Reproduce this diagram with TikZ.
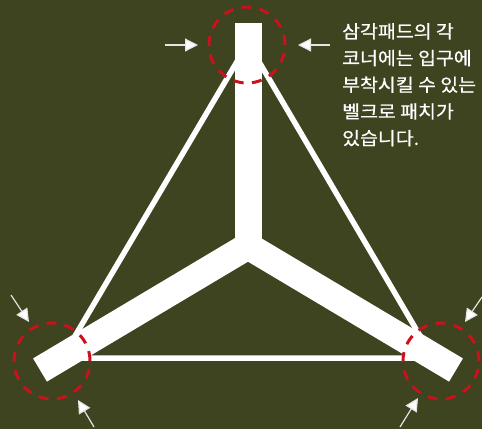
\documentclass[tikz,border=0pt]{standalone}
\usepackage{fontspec}
\newfontfamily\krfont[FakeStretch=1.08, FakeBold=0.6]{Noto Sans CJK KR}
\usetikzlibrary{arrows.meta}
\definecolor{padbg}{RGB}{62,67,32}
\definecolor{velcro}{RGB}{200,18,30}

\begin{document}
\begin{tikzpicture}[x=1pt, y=-1pt,
    arm/.style={draw=white, line width=27pt, line cap=butt},
    rib/.style={draw=white, line width=5.5pt},
    ring/.style={circle, draw=velcro, line width=3pt, dash pattern=on 10pt off 8.4pt,
        minimum size=76pt, inner sep=0pt},
    pointer/.style={draw=white!80!gray, line width=1.2pt,
        -{Triangle[length=13pt, width=13pt, fill=white]}},
    note/.style={text=white, font=\krfont\fontsize{18}{26.7}\selectfont,
        align=left, inner sep=0pt, anchor=north west}
]
    \fill[padbg] (0,0) rectangle (482,429);
    \useasboundingbox (0,0) rectangle (482,429);

    % thin triangle
    \coordinate (apex) at (248,43);
    \coordinate (baseL) at (62,358);
    \coordinate (baseR) at (433,358);
    \draw[rib] (apex) -- (baseL) -- (baseR) -- cycle;

    % Y-shaped pad
    \coordinate (hub) at (248,246);
    \coordinate (tipT) at (248,23);
    \coordinate (tipL) at (40,370);
    \coordinate (tipR) at (456,370);
    \draw[arm] (hub) -- (tipT);
    \draw[arm] (hub) -- (tipL);
    \draw[arm] (hub) -- (tipR);

    % velcro corners
    \node[ring] (ringT) at (247,45) {};
    \node[ring] (ringL) at (52,361) {};
    \node[ring] (ringR) at (441,361) {};

    % pointers
    \coordinate (pTLs) at (165,45);
    \coordinate (pTLe) at (198,45);
    \coordinate (pTRs) at (330,45);
    \coordinate (pTRe) at (298,45);
    \coordinate (pLUs) at (11,295);
    \coordinate (pLUe) at (29,322);
    \coordinate (pLDs) at (94,427);
    \coordinate (pLDe) at (78,400);
    \coordinate (pRUs) at (482,297);
    \coordinate (pRUe) at (465,322);
    \coordinate (pRDs) at (400,427);
    \coordinate (pRDe) at (418,398);
    \draw[pointer] (pTLs) -- (pTLe);
    \draw[pointer] (pTRs) -- (pTRe);
    \draw[pointer] (pLUs) -- (pLUe);
    \draw[pointer] (pLDs) -- (pLDe);
    \draw[pointer] (pRUs) -- (pRUe);
    \draw[pointer] (pRDs) -- (pRDe);

    \node[note] (caption) at (342,23) {삼각패드의 각\\코너에는 입구에\\부착시킬 수 있는\\벨크로 패치가\\있습니다.};
\end{tikzpicture}
\end{document}
